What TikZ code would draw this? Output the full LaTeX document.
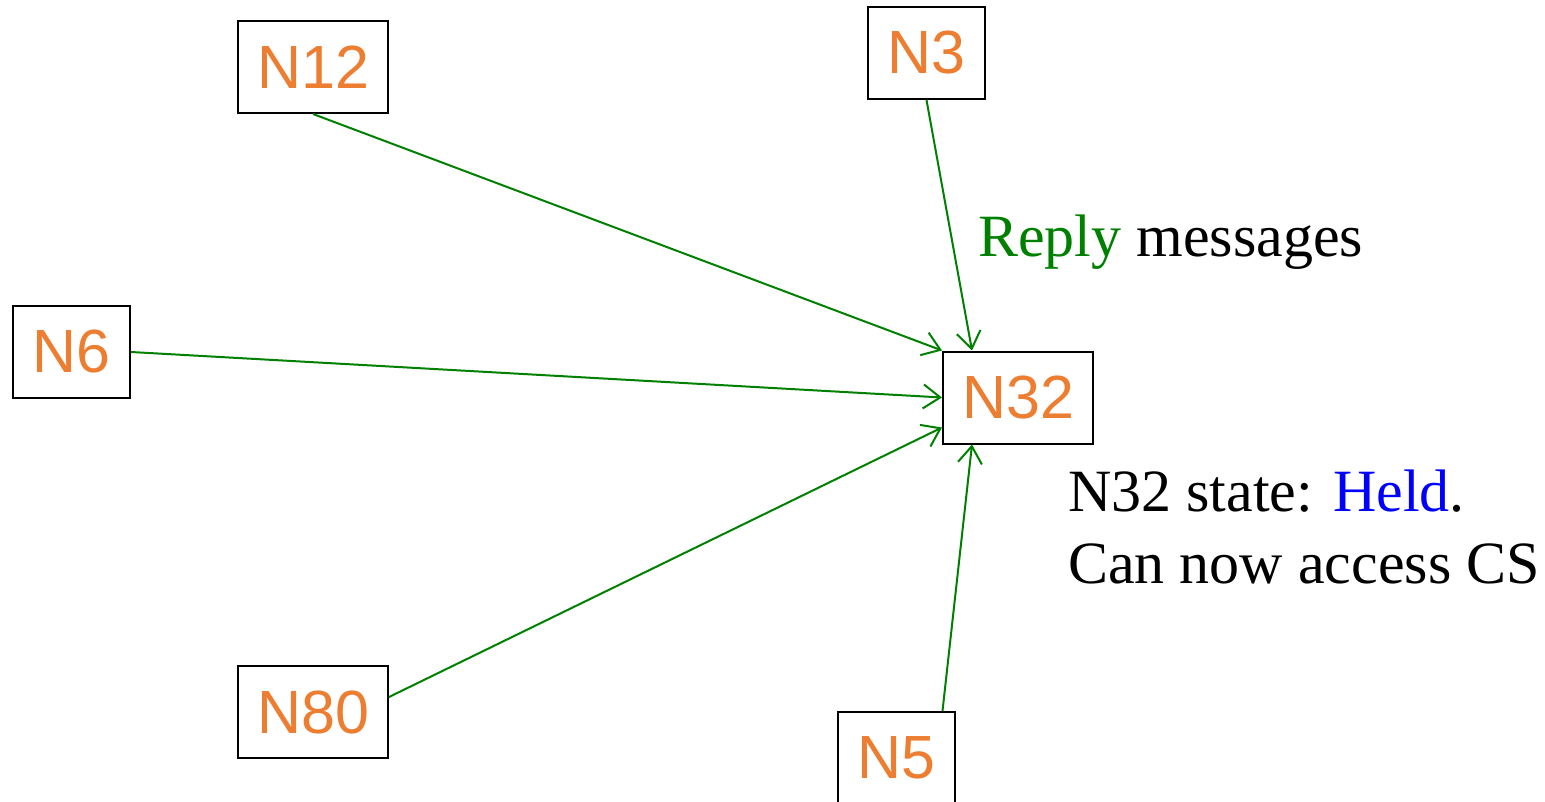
\documentclass[tikz,border=0pt]{standalone}
\usepackage{fontspec}
\setmainfont{Liberation Serif}
\newfontfamily\nodefont{Liberation Sans}
\usetikzlibrary{arrows.meta}
\definecolor{nodeorange}{RGB}{237,125,49}
\definecolor{msggreen}{RGB}{0,128,0}
\definecolor{heldblue}{RGB}{0,0,255}
\begin{document}
\begin{tikzpicture}[x=1pt,y=-1pt,
  proc/.style={draw=black,line width=2pt,inner sep=0pt,minimum height=92pt,
    font=\nodefont\fontsize{61}{61}\selectfont,text=nodeorange},
  wide/.style={minimum width=150pt},
  narrow/.style={minimum width=117pt},
  msg/.style={draw=msggreen,line width=2pt,
    -{Straight Barb[length=17pt,width=24pt,line width=2pt]}},
  note/.style={font=\fontsize{60}{72}\selectfont,anchor=base west,inner sep=0pt}]
\useasboundingbox (0,0) rectangle (1545,802);

% processes
\node[proc,wide]   (n12) at (313,67)    {N12};
\node[proc,narrow] (n3)  at (926.5,53)  {N3};
\node[proc,narrow] (n6)  at (71.5,352)  {N6};
\node[proc,wide]   (n32) at (1018,397.5){N32};
\node[proc,wide]   (n80) at (313,712)   {N80};
\node[proc,narrow] (n5)  at (896.5,758) {N5};

% reply messages converging on N32
\draw[msg] (n12.south) -- (n32.north west);
\draw[msg] (n3.south) -- ([xshift=30pt]n32.north west);
\draw[msg] (n6.east) -- (n32.west);
\draw[msg] ([yshift=15pt]n80.east) -- ([yshift=-30pt]n32.west);
\draw[msg] ([xshift=46pt]n5.north) -- ([xshift=30pt]n32.south west);

% annotations
\node[note] (reply) at (978,257) {\textcolor{msggreen}{Reply} messages};
\node[note] (state) at (1068,511) {N32 state: \textcolor{heldblue}{Held}.};
\node[note] (cs)    at (1068,583) {Can now access CS};
\end{tikzpicture}
\end{document}
